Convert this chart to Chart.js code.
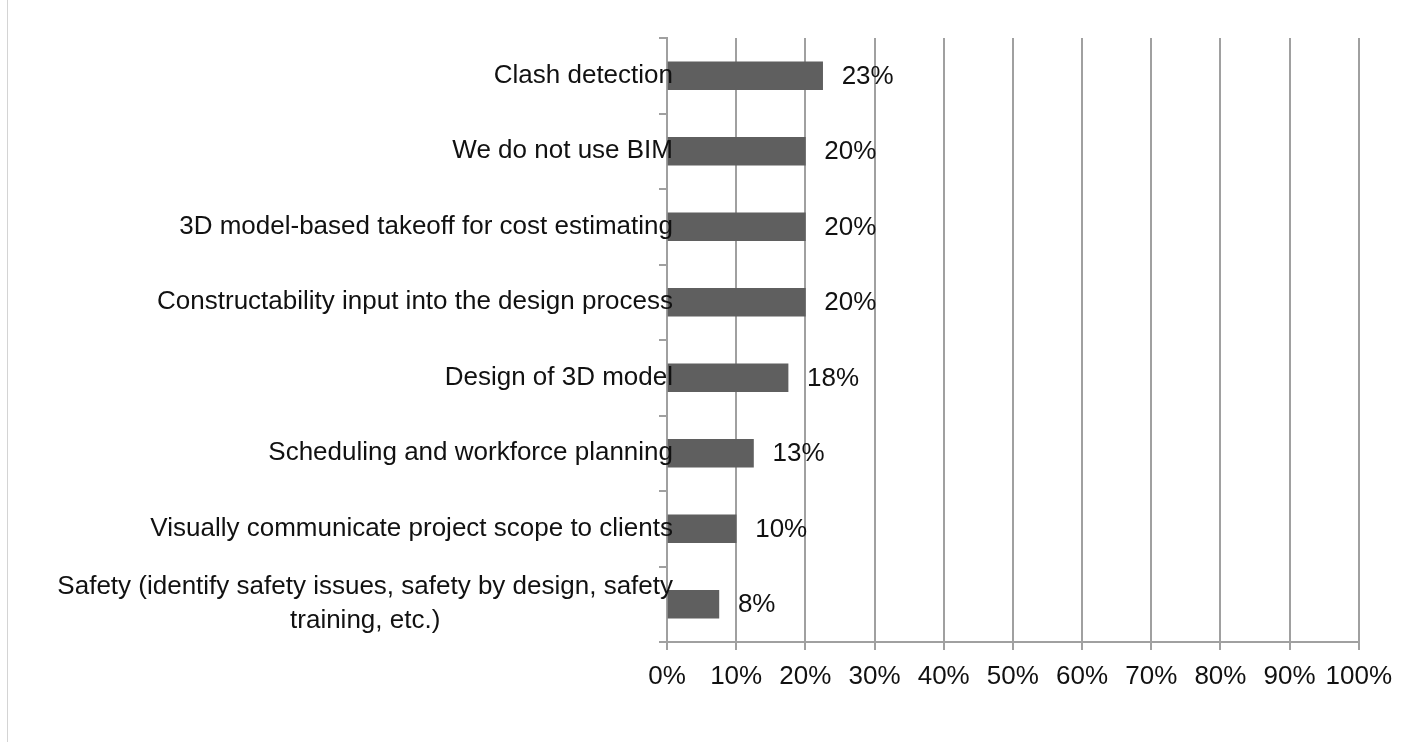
<!DOCTYPE html>
<html>
<head>
<meta charset="utf-8">
<script src="https://cdn.jsdelivr.net/npm/chart.js@4"></script>
<style>
    html, body { margin: 0; padding: 0; background: #fff; }
    #wrap { position: relative; width: 1403px; height: 742px; }
    #garis-kiri { position: absolute; left: 7px; top: 0; width: 1px; height: 742px; background: #d4d4d4; }
</style>
</head>
<body>
<div id="wrap">
    <div id="garis-kiri"></div>
    <canvas id="bimChart" width="1403" height="742"></canvas>
</div>
<script>
// Data dari gambar (nilai dibaca dari panjang batang)
const kategori = [
    'Clash detection',
    'We do not use BIM',
    '3D model-based takeoff for cost estimating',
    'Constructability input into the design process',
    'Design of 3D model',
    'Scheduling and workforce planning',
    'Visually communicate project scope to clients',
    ['Safety (identify safety issues, safety by design, safety', 'training, etc.)']
];
const persen = [22.5, 20, 20, 20, 17.5, 12.5, 10, 7.5];
const labelNilai = ['23%', '20%', '20%', '20%', '18%', '13%', '10%', '8%'];
const tickX = [0, 10, 20, 30, 40, 50, 60, 70, 80, 90, 100];

const FONT = "'Liberation Sans', Arial, sans-serif";
const ABU = '#a0a0a0';

// Label kategori digambar manual supaya boleh nimpa batang (kayak di Excel)
const labelKategori = {
    id: 'labelKategori',
    afterDraw(chart) {
        const ctx = chart.ctx;
        const y = chart.scales.y;
        const kanan = y.right + 6;
        ctx.save();
        ctx.font = '26px ' + FONT;
        ctx.fillStyle = '#111';
        ctx.textBaseline = 'middle';
        kategori.forEach((lbl, i) => {
            const py = y.getPixelForValue(i);
            const baris = Array.isArray(lbl) ? lbl : [lbl];
            const lebar = Math.max(...baris.map(b => ctx.measureText(b).width));
            const tinggi = 34;
            const awal = py - (baris.length - 1) * tinggi / 2;
            ctx.textAlign = 'center';
            baris.forEach((b, j) => {
                ctx.fillText(b, kanan - lebar / 2, awal + j * tinggi);
            });
        });
        ctx.restore();
    }
};

// Label persen di ujung batang
const labelBatang = {
    id: 'labelBatang',
    afterDatasetsDraw(chart) {
        const ctx = chart.ctx;
        const meta = chart.getDatasetMeta(0);
        ctx.save();
        ctx.font = '26px ' + FONT;
        ctx.fillStyle = '#111';
        ctx.textAlign = 'left';
        ctx.textBaseline = 'middle';
        meta.data.forEach((bar, i) => {
            ctx.fillText(labelNilai[i], bar.x + 19, bar.y + 1);
        });
        ctx.restore();
    }
};

const ctx = document.getElementById('bimChart').getContext('2d');

new Chart(ctx, {
    type: 'bar',
    data: {
        labels: kategori,
        datasets: [{
            data: persen,
            backgroundColor: '#5f5f5f',
            borderWidth: 0,
            barThickness: 28
        }]
    },
    plugins: [labelBatang, labelKategori],
    options: {
        indexAxis: 'y',
        responsive: false,
        animation: false,
        layout: { padding: { top: 38, right: 39, left: 0, bottom: 0 } },
        plugins: {
            legend: { display: false },
            tooltip: { enabled: false }
        },
        scales: {
            x: {
                min: 0,
                max: 100,
                afterBuildTicks: (scale) => {
                    scale.ticks = tickX.map(v => ({ value: v }));
                },
                afterFit: (scale) => { scale.height = 100; },
                grid: {
                    color: ABU,
                    lineWidth: 2,
                    drawTicks: true,
                    tickLength: 8
                },
                border: { color: ABU, width: 2 },
                ticks: {
                    color: '#111',
                    font: { family: FONT, size: 26 },
                    padding: 11,
                    maxRotation: 0,
                    autoSkip: false,
                    callback: (v) => v + '%'
                }
            },
            y: {
                afterFit: (scale) => { scale.width = 667; },
                grid: {
                    offset: true,
                    drawOnChartArea: false,
                    color: ABU,
                    lineWidth: 2,
                    tickLength: 8
                },
                border: { color: ABU, width: 2 },
                ticks: { display: false }
            }
        }
    }
});
</script>
</body>
</html>
